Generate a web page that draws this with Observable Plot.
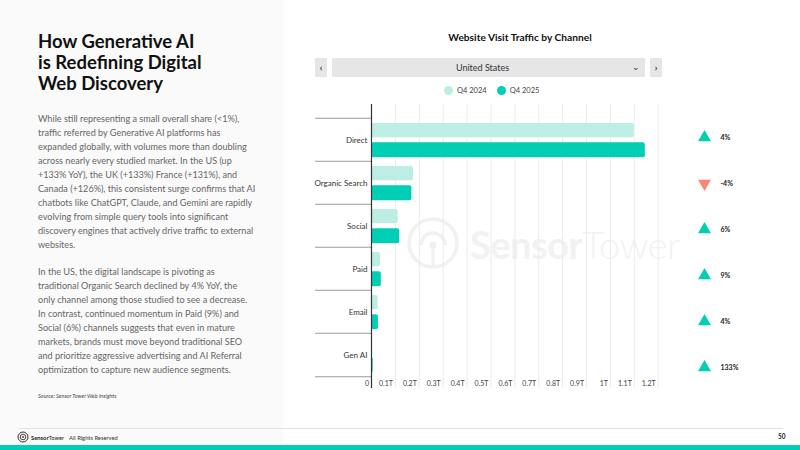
<!DOCTYPE html>
<html>
<head>
<meta charset="utf-8">
<script src="https://cdn.jsdelivr.net/npm/d3@7"></script>
<script src="https://cdn.jsdelivr.net/npm/@observablehq/plot@0.6"></script>
<style>
  html, body { margin:0; padding:0; background:#fff; }
  #page { position:relative; width:800px; height:450px; overflow:hidden; font-family: Lato, "Open Sans", sans-serif; }
  .abs { position:absolute; }
  #leftbg { left:0; top:0; width:283px; height:445px; background:#fafafa; }
  #title { left:38px; top:31px; font-size:18.5px; font-weight:700; line-height:20.8px; color:#111; white-space:nowrap; }
  .para { left:38px; font-size:9.1px; line-height:14px; color:#666; white-space:nowrap; }
  #source { left:38px; top:393px; font-size:5.5px; font-style:italic; color:#444; }
  #ctitle { left:400px; width:240px; top:31px; text-align:center; font-size:10.2px; font-weight:700; color:#111; }
  .btn { background:#e6e6e6; top:58px; height:19px; font-size:9px; color:#333; display:flex; align-items:center; justify-content:center; }
  #legend { top:86px; left:444px; font-size:7.5px; color:#444; display:flex; align-items:center; }
  .sw { width:9px; height:9px; border-radius:50%; display:inline-block; margin-right:4px; }
  #footline { left:18px; top:428px; width:765px; height:1px; background:#e2e2e2; }
  #teal { left:0; top:445px; width:800px; height:5px; background:#00cfb6; }
  #wm { left:470px; top:221px; font-size:38px; color:#f2f2f2; letter-spacing:-0.5px; white-space:nowrap; line-height:46px; }
</style>
</head>
<body>
<div id="page">
  <div id="leftbg" class="abs"></div>
  <div id="title" class="abs">How Generative AI<br>is Redefining Digital<br>Web Discovery</div>
  <div class="abs para" style="top:112.3px">While still representing a small overall share (&lt;1%),<br>traffic referred by Generative AI platforms has<br>expanded globally, with volumes more than doubling<br>across nearly every studied market. In the US (up<br>+133% YoY), the UK (+133%) France (+131%), and<br>Canada (+126%), this consistent surge confirms that AI<br>chatbots like ChatGPT, Claude, and Gemini are rapidly<br>evolving from simple query tools into significant<br>discovery engines that actively drive traffic to external<br>websites.</div>
  <div class="abs para" style="top:264.7px">In the US, the digital landscape is pivoting as<br>traditional Organic Search declined by 4% YoY, the<br>only channel among those studied to see a decrease.<br>In contrast, continued momentum in Paid (9%) and<br>Social (6%) channels suggests that even in mature<br>markets, brands must move beyond traditional SEO<br>and prioritize aggressive advertising and AI Referral<br>optimization to capture new audience segments.</div>
  <div id="source" class="abs">Source: Sensor Tower Web Insights</div>

  <svg class="abs" style="left:405px;top:215px" width="60" height="60" viewBox="0 0 60 60">
    <circle cx="28" cy="28" r="24" fill="none" stroke="#f1f1f1" stroke-width="3.5"/>
    <path d="M16 30 A12 12 0 1 1 40 30" fill="none" stroke="#f1f1f1" stroke-width="3.5"/>
    <circle cx="28" cy="30" r="3.5" fill="#f1f1f1"/>
    <rect x="26.5" y="30" width="3" height="22" fill="#f1f1f1"/>
  </svg>
  <div id="wm" class="abs"><span style="font-weight:700">Sensor</span><span style="font-weight:300">Tower</span></div>

  <div id="ctitle" class="abs">Website Visit Traffic by Channel</div>
  <div class="abs btn" style="left:315px;width:12px;font-weight:700">&lsaquo;</div>
  <div class="abs btn" style="left:332px;width:313px;"><span style="margin-left:-12px">United States</span></div>
  <div class="abs" style="left:632px;top:61px;font-size:9px;color:#333;">&#8964;</div>
  <div class="abs btn" style="left:650px;width:12px;font-weight:700">&rsaquo;</div>
  <div id="legend" class="abs"></div>

  <div id="chart" class="abs" style="left:300px;top:100px"></div>
  <div id="markers" class="abs" style="left:680px;top:100px"></div>

  <div id="footline" class="abs"></div>
  <svg class="abs" style="left:17px;top:431px" width="12" height="12" viewBox="0 0 12 12">
    <circle cx="6" cy="6" r="5" fill="none" stroke="#333" stroke-width="1"/>
    <circle cx="6" cy="6" r="2.8" fill="none" stroke="#333" stroke-width="0.9"/>
    <circle cx="6" cy="6" r="0.9" fill="#333"/>
  </svg>
  <div class="abs" style="left:31px;top:433.5px;font-size:5.8px;color:#222;white-space:nowrap"><span style="font-weight:700">Sensor</span><span>Tower</span></div>
  <div class="abs" style="left:69px;top:433.5px;font-size:5.8px;color:#333;white-space:nowrap">All Rights Reserved</div>
  <div class="abs" style="left:778px;top:433px;font-size:6.5px;font-weight:700;color:#222">50</div>
  <div id="teal" class="abs"></div>
</div>

<script>
// ---- data ----
const channels = ["Direct", "Organic Search", "Social", "Paid", "Email", "Gen AI"];
const q4_2024 = [1.10, 0.176, 0.112, 0.038, 0.028, 0.003];   // trillions of visits
const q4_2025 = [1.146, 0.169, 0.118, 0.041, 0.029, 0.007];
const yoyChange = [4, -4, 6, 9, 4, 133];                      // percent
const seriesNames = ["Q4 2024", "Q4 2025"];
const seriesColors = ["#bdeee5", "#00cfb6"];
const xTicks = [0, 0.1, 0.2, 0.3, 0.4, 0.5, 0.6, 0.7, 0.8, 0.9, 1, 1.1, 1.2];
const xTickLabels = ["0", "0.1T", "0.2T", "0.3T", "0.4T", "0.5T", "0.6T", "0.7T", "0.8T", "0.9T", "1T", "1.1T", "1.2T"];

const rows = channels.map((c, i) => ({channel: c, v2024: q4_2024[i], v2025: q4_2025[i], change: yoyChange[i]}));

// legend
const leg = document.getElementById("legend");
seriesNames.forEach((n, i) => {
  const s = document.createElement("span");
  s.style.display = "inline-flex"; s.style.alignItems = "center"; s.style.marginRight = "10px";
  s.innerHTML = `<span class="sw" style="background:${seriesColors[i]}"></span>${n}`;
  leg.appendChild(s);
});

const step = 43.5;
const chart = Plot.plot({
  width: 380, height: 300,
  marginLeft: 71, marginRight: 22.3, marginTop: 16, marginBottom: 23,
  x: {domain: [0, 1.2]},
  y: {domain: channels, padding: 0},
  style: {background: "transparent", fontFamily: "Lato, sans-serif", overflow: "visible"},
  marks: [
    Plot.ruleX(xTicks, {x: d => d, stroke: "#ebebeb", strokeWidth: 1, insetTop: -12, insetBottom: -11}),
    Plot.barX(rows, {y: "channel", x: "v2024", fill: seriesColors[0], rx: 2, insetTop: 5, insetBottom: 23.8}),
    Plot.barX(rows, {y: "channel", x: "v2025", fill: seriesColors[1], rx: 2, insetTop: 24.3, insetBottom: 3.8}),
    Plot.ruleY(channels, {y: d => d, dy: -step / 2, x1: -0.234, x2: 0, stroke: "#9a9a9a", strokeWidth: 1}),
    Plot.ruleY(channels.slice(-1), {y: d => d, dy: step / 2, x1: -0.234, x2: 0, stroke: "#9a9a9a", strokeWidth: 1}),
    Plot.ruleX([0], {x: d => d, stroke: "#333", strokeWidth: 1.2, insetTop: -12, insetBottom: -11}),
    Plot.axisY({tickSize: 0, tickPadding: 4, fontSize: 8, fill: "#333", label: null}),
    Plot.axisX(xTicks, {tickSize: 0, tickPadding: 3.5, fontSize: 7, fill: "#444", label: null,
      tickFormat: d => xTickLabels[xTicks.indexOf(d)], textAnchor: "end", dx: -2.5})
  ]
});
document.getElementById("chart").appendChild(chart);

const markers = Plot.plot({
  width: 100, height: 300,
  marginLeft: 0, marginRight: 52, marginTop: 13.7, marginBottom: 10.3,
  y: {type: "band", domain: channels, padding: 0, axis: null},
  style: {background: "transparent", fontFamily: "Lato, sans-serif", overflow: "visible"},
  marks: [
    Plot.dot(rows.filter(d => d.change >= 0), {y: "channel", symbol: "triangle", r: 4.8, fill: "#00cfb6", frameAnchor: "middle"}),
    Plot.dot(rows.filter(d => d.change < 0), {y: "channel", symbol: "triangle", r: 4.8, fill: "#fd8571", rotate: 180, frameAnchor: "middle"}),
    Plot.text(rows, {y: "channel", text: d => d.change + "%", frameAnchor: "middle", dx: 16, textAnchor: "start",
      fontWeight: 700, fontSize: 7, fill: "#222"})
  ]
});
document.getElementById("markers").appendChild(markers);
</script>
</body>
</html>
